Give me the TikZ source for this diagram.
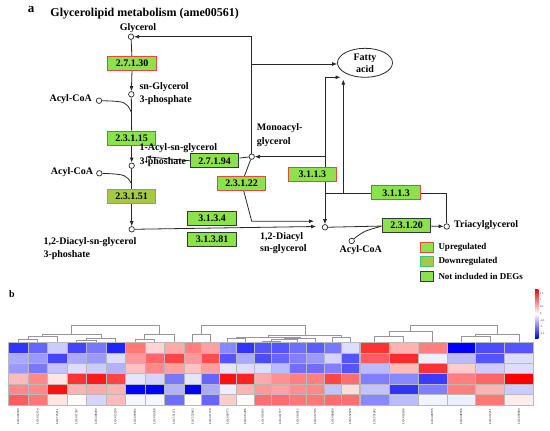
\documentclass[tikz,border=0pt]{standalone}
\usepackage{fontspec}
\setmainfont{Liberation Serif}
\usetikzlibrary{arrows.meta,calc,shapes.geometric}
\pgfdeclarelayer{bg}
\pgfsetlayers{bg,main}
\definecolor{ecgreen}{RGB}{140,226,76}
\definecolor{upred}{RGB}{232,72,60}
\definecolor{dnfill}{RGB}{165,200,72}
\definecolor{dnborder}{RGB}{60,196,130}
\definecolor{ndborder}{RGB}{55,55,55}
\definecolor{linegray}{RGB}{40,40,40}
\definecolor{dendgray}{RGB}{150,150,150}
\newcommand\hmseg[3]{%
  \foreach \rw [count=\r from 0] in {#3} {
    \foreach \v [count=\c from 0] in \rw {
      \pgfmathsetmacro\pc{min(100,abs(\v)*66.7)}
      \pgfmathtruncatemacro\hneg{\v<0}
      \ifnum\hneg=1 \colorlet{hcol}{blue!\pc!white}\else\colorlet{hcol}{red!\pc!white}\fi
      \filldraw[fill=hcol,draw=gray!55,line width=0.4pt] ({#1+\c*#2},{342.3+\r*10.45}) rectangle ++(#2,10.45);
    }
  }
}
\newcommand\dlink[5]{\draw[dendro] (#1,#4) -- (#1,#3) -- (#2,#3) -- (#2,#5);}
\def\hmtop{342.3}
\begin{document}
\begin{tikzpicture}[x=1pt,y=-1pt,
  ecbox/.style={rectangle,minimum width=48.5pt,minimum height=14pt,inner sep=0pt,
    font=\bfseries\fontsize{10}{12}\selectfont,line width=1pt},
  upbox/.style={ecbox,fill=ecgreen,draw=upred},
  dnbox/.style={ecbox,fill=dnfill,draw=dnborder},
  ndbox/.style={ecbox,fill=ecgreen,draw=ndborder},
  cpd/.style={circle,draw=linegray,fill=white,minimum size=5.5pt,inner sep=0pt,line width=0.7pt},
  lbl/.style={font=\bfseries\fontsize{10}{12.5}\selectfont,inner sep=0pt,align=left},
  conn/.style={draw=linegray,line width=0.8pt},
  arr/.style={conn,-{Latex[length=5pt,width=4pt]}},
  dendro/.style={draw=dendgray,line width=0.6pt},
  legbox/.style={rectangle,minimum width=13pt,minimum height=10pt,inner sep=0pt,line width=1pt},
  legtxt/.style={font=\bfseries\fontsize{9}{11}\selectfont,inner sep=0pt,anchor=west},
  collbl/.style={font=\fontsize{3}{3.5}\selectfont,rotate=90,anchor=east,inner sep=0pt},
  scl/.style={font=\fontsize{2.6}{3}\selectfont,anchor=west,inner sep=0pt}]
\useasboundingbox (0,0) rectangle (550,431);

% ---------- panel a ----------
\node[font=\bfseries\fontsize{13}{15}\selectfont,inner sep=0pt] (la) at (31,10) {a};
\node[font=\bfseries\fontsize{12}{14}\selectfont,inner sep=0pt] (title) at (144.7,14) {Glycerolipid metabolism (ame00561)};

% compounds
\node[cpd] (cGly) at (131,36.7) {};
\node[cpd] (cG3P) at (131.3,94.3) {};
\node[cpd] (cLPA) at (131.7,165.7) {};
\node[cpd] (cPA) at (131.7,229.3) {};
\node[cpd] (cMAG) at (251.7,156.7) {};
\node[cpd] (cDAG) at (325,227.3) {};
\node[cpd] (cTAG) at (446.7,226.5) {};
\node[cpd] (cA1) at (99,100.7) {};
\node[cpd] (cA2) at (99.3,173.3) {};
\node[cpd] (cA3) at (351.7,241) {};
\node[ellipse,draw=linegray,line width=0.8pt,minimum width=55pt,minimum height=29pt,inner sep=0pt,
  font=\bfseries\fontsize{10}{12}\selectfont,align=center] (fa) at (365,62.8) {Fatty\\acid};

% enzyme boxes
\node[upbox] (e1) at (132.2,63.3) {2.7.1.30};
\node[upbox] (e2) at (131.7,138) {2.3.1.15};
\node[dnbox] (e3) at (131.7,196.2) {2.3.1.51};
\node[ndbox] (e4) at (214.7,160.8) {2.7.1.94};
\node[upbox] (e5) at (241.7,183.3) {2.3.1.22};
\node[ndbox] (e6) at (212,218.7) {3.1.3.4};
\node[ndbox] (e7) at (212,239) {3.1.3.81};
\node[upbox] (e8) at (312.3,174.5) {3.1.1.3};
\node[upbox] (e9) at (396,192.8) {3.1.1.3};
\node[ndbox] (e10) at (406.7,225.5) {2.3.1.20};

% labels
\node[lbl] (tGly) at (138,28) {Glycerol};
\node[lbl,anchor=west] (tG3P) at (139.3,93.8) {sn-Glycerol\\3-phosphate};
\node[lbl,anchor=east] (tA1) at (92,99) {Acyl-CoA};
\node[lbl,anchor=west,font=\bfseries\fontsize{10}{13.4}\selectfont] (tLPA) at (139.3,155) {1-Acyl-sn-glycerol\\3-phoshate};
\node[lbl,anchor=east] (tA2) at (93.3,172.3) {Acyl-CoA};
\node[lbl,anchor=west,font=\bfseries\fontsize{10}{13.7}\selectfont] (tMAG) at (256.7,134.8) {Monoacyl-\\glycerol};
\node[lbl,anchor=west] (tPA) at (43.3,248.7) {1,2-Diacyl-sn-glycerol\\3-phoshate};
\node[lbl,anchor=west,font=\bfseries\fontsize{10}{11.7}\selectfont] (tDAG) at (260,243) {1,2-Diacyl\\sn-glycerol};
\node[lbl] (tA3) at (360.8,250) {Acyl-CoA};
\node[lbl,anchor=west] (tTAG) at (454,225) {Triacylglycerol};

% junction coordinates
\coordinate (jG) at (131.3,112);
\coordinate (jL) at (131.7,184);
\coordinate (jFA1) at (251.7,64);
\coordinate (jMbot) at (251.7,221.2);
\coordinate (dagin1) at (314,221.2);
\coordinate (dagin2) at (316,226.5);
\coordinate (jD1) at (325,156.7);
\coordinate (jD2) at (325,77.3);
\coordinate (faIn2) at (340.5,77.3);
\coordinate (jT1) at (446.7,193.3);
\coordinate (jT2) at (325,193.3);
\coordinate (jT3) at (343.3,193.3);
\coordinate (faIn3) at (343.3,79.5);
\coordinate (lpaIn) at (146,156.7);
\coordinate (lpaTick) at (146,163.3);
\coordinate (jA3) at (381,226.4);

\begin{pgfonlayer}{bg}
\draw[conn] (cGly) -- (e1);
\draw[arr] (e1) -- (cG3P);
\draw[conn] (cG3P) -- (e2);
\draw[arr] (e2) -- (cLPA);
\draw[conn] (cA1.east) .. controls (126,101.5) .. (jG);
\draw[conn] (cLPA) -- (e3);
\draw[arr] (e3) -- (cPA);
\draw[conn] (cA2.east) .. controls (126,174.5) .. (jL);
\draw[arr] (e4.west) -- (lpaIn);
\draw[conn] (lpaIn) -- (lpaTick);
\draw[conn] (cMAG) -- (e4);
\draw[arr] (cMAG.north) |- (cGly.east);
\draw[arr] (jFA1) -- (jFA1 -| fa.west);
\draw[conn] (cMAG) -- (e5);
\draw[arr] (e5) -- (jMbot) -- (dagin1);
\draw[arr] (cPA) -- (dagin2);
\draw[arr] (jD2) -- (faIn2);
\draw[arr] (jD2) -- (cDAG.north);
\draw[arr] (jD1) -- (cMAG.east);
\draw[conn] (cTAG.north) -- (jT1) -- (jT2);
\draw[arr] (jT3) -- (faIn3);
\draw[conn] (cDAG) -- (e10);
\draw[arr] (e10) -- (cTAG);
\draw[conn] (cA3.north east) .. controls (364,231) .. (jA3);
\end{pgfonlayer}

% legend
\node[legbox,fill=ecgreen,draw=upred] (lg1) at (427.3,247.5) {};
\node[legbox,fill=dnfill,draw=dnborder] (lg2) at (427.3,261.7) {};
\node[legbox,fill=ecgreen,draw=ndborder] (lg3) at (427.3,276.7) {};
\node[legtxt] (lt1) at (438.3,247.7) {Upregulated};
\node[legtxt] (lt2) at (438.3,261.7) {Downregulated};
\node[legtxt] (lt3) at (438.3,276.7) {Not included in DEGs};

% ---------- panel b ----------
\node[font=\bfseries\fontsize{10}{12}\selectfont,inner sep=0pt] (lb) at (12,294) {b};

\hmseg{8.3}{19.49}{{-1.2,-0.9,-0.3,-1.1,-0.8,-1.3,0.8,0.25,0.5},
{-0.5,-0.6,-1.1,-0.5,-0.6,-0.2,0.6,0.9,1.1},
{-0.6,-0.8,-0.35,-0.2,-0.3,-0.45,0.35,0.7,0.55},
{0.4,0.7,0.15,1.2,1.35,1.1,-0.15,-0.25,-0.8},
{0.7,0.7,1.4,0.45,0.5,0.45,-1.5,-1.5,-0.45},
{0.95,0.8,0.15,0.02,-0.25,0.4,-0.05,-0.05,-0.85}}
\hmseg{184}{17.5}{{0.75,0.55,-0.7,-1.2,-1.0,-1.0,-0.85,-0.95,-0.8,-0.2},
{0.6,1.05,-1.0,-0.5,-1.05,-0.9,-0.75,-0.6,-0.25,-1.0},
{0.35,0.55,-0.15,-0.2,-0.2,-0.4,-0.85,-0.85,-0.75,-1.0},
{-0.15,-0.9,1.4,1.3,0.5,0.65,0.75,0.75,1.1,0.85},
{-1.5,-0.5,-0.1,0.45,0.6,0.55,0.65,0.7,-0.35,0.2},
{0.02,-0.9,0.3,0.02,0.85,0.85,0.8,0.8,0.85,0.85}}
\hmseg{360}{28.9}{{1.2,0.45,0.75,-1.5,-1.05,-1.0},
{0.95,1.25,-0.1,-0.4,-1.0,-0.2},
{-0.4,0.4,1.2,0.3,-0.3,-0.2},
{-0.75,-0.7,-1.15,0.75,0.9,1.5},
{-0.35,-1.2,-0.75,0.75,0.45,-0.3},
{-0.7,-0.4,-0.08,-0.1,0.8,0.12}}

% dendrograms (heatmap top = 342.3)
% segment 1
\dlink{18}{37.5}{339.3}{\hmtop}{\hmtop}
\dlink{27.8}{57}{336}{339.3}{\hmtop}
\dlink{76.5}{96}{340}{\hmtop}{\hmtop}
\dlink{86.2}{115.5}{338.3}{340}{\hmtop}
\dlink{42.4}{100.9}{334.5}{336}{338.3}
\dlink{135}{154.4}{339.3}{\hmtop}{\hmtop}
\dlink{144.7}{173.9}{334}{339.3}{\hmtop}
\dlink{71.6}{159.3}{325}{334.5}{334}
% segment 2
\dlink{192.75}{210.25}{334}{\hmtop}{\hmtop}
\dlink{227.75}{245.25}{338}{\hmtop}{\hmtop}
\dlink{262.75}{280.25}{341}{\hmtop}{\hmtop}
\dlink{271.5}{297.75}{339.5}{341}{\hmtop}
\dlink{284.6}{315.25}{338}{339.5}{\hmtop}
\dlink{236.5}{299.9}{337}{338}{338}
\dlink{332.75}{350.25}{337.7}{\hmtop}{\hmtop}
\dlink{268.2}{341.5}{335.7}{337}{337.7}
\dlink{201.5}{304.9}{325}{334}{335.7}
% segment 3
\dlink{374.45}{403.35}{336}{\hmtop}{\hmtop}
\dlink{388.9}{432.25}{331.7}{336}{\hmtop}
\dlink{461.15}{490.05}{336}{\hmtop}{\hmtop}
\dlink{475.6}{518.95}{334.3}{336}{\hmtop}
\dlink{410.6}{497.3}{325}{331.7}{334.3}

% column labels
\foreach \lab [count=\i from 0] in {LOC409349,LOC412154,LOC725211,LOC411307,LOC408480,LOC413290,LOC409692,LOC410268,LOC551271}
  \node[collbl] (ca\i) at ({8.3+19.49*(\i+0.5)},409) {\lab};
\foreach \lab [count=\i from 0] in {LOC552643,LOC411578,LOC409775,LOC413496,LOC410185,LOC411577,LOC410912,LOC412705,LOC408669,LOC552028}
  \node[collbl] (cb\i) at ({184+17.5*(\i+0.5)},409) {\lab};
\foreach \lab [count=\i from 0] in {LOC551002,LOC410246,LOC409795,LOC408786,LOC412211,LOC409804}
  \node[collbl] (cc\i) at ({360+28.9*(\i+0.5)},409) {\lab};

% colour scale
\shade[top color=red,bottom color=blue,middle color=white] (535,289) rectangle (538.3,338.3);
\node[draw=none,inner sep=0pt,minimum width=3.3pt,minimum height=49.3pt] (cs) at (536.65,313.65) {};
\foreach \lab/\yy [count=\i] in {1.5/293.3,1/300,0.5/306.7,0/313.7,-0.5/320.3,-1/327,-1.5/333.7}
  \node[scl] (sc\i) at (540,\yy) {\lab};
\end{tikzpicture}
\end{document}
